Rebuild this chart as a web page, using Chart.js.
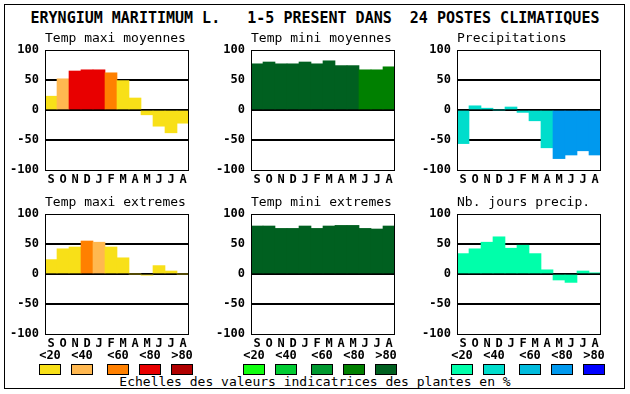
<!DOCTYPE html>
<html>
<head>
<meta charset="utf-8">
<script src="https://cdn.jsdelivr.net/npm/chart.js@4/dist/chart.umd.min.js"></script>
<style>
  body { margin: 0; background: #fff; width: 630px; height: 394px; overflow: hidden;
         font-family: "DejaVu Sans Mono", monospace; color: #000; position: relative; }
  #frame { position: absolute; left: 4px; top: 4px; width: 621px; height: 385px; border: 1px solid #000; box-sizing: border-box; }
  #title { position: absolute; left: 0; width: 630px; top: 9px; text-align: center;
           font-size: 15px; font-weight: bold; white-space: pre; line-height: 18px; }
  canvas { position: absolute; }
  .lab { position: absolute; font-size: 12px; font-weight: bold; line-height: 14px; width: 40px; text-align: center; }
  .box { position: absolute; width: 22px; height: 11px; border: 1px solid #000; box-sizing: border-box; }
  #foot { position: absolute; left: 0; width: 630px; top: 374px; text-align: center; font-size: 13px; line-height: 16px; white-space: pre; }
</style>
</head>
<body>
<div id="frame"></div>
<div id="title">ERYNGIUM MARITIMUM L.   1-5 PRESENT DANS  24 POSTES CLIMATIQUES</div>
<div id="foot">Echelles des valeurs indicatrices des plantes en %</div>

<script>
// mois (septembre -> aout)
const months = ['S', 'O', 'N', 'D', 'J', 'F', 'M', 'A', 'M', 'J', 'J', 'A'];
const yTicks = [-100, -50, 0, 50, 100];
const legendLabels = ['<20', '<40', '<60', '<80', '>80'];

// palettes des classes (une par colonne de panneaux)
const redScale = ['#F8E018', '#FFB850', '#FF8000', '#E80000', '#B00000'];
const greenScale = ['#10FF10', '#00CC33', '#009930', '#008000', '#006020'];
const blueScale = ['#00FFAA', '#00DDCC', '#00BBDD', '#0099EE', '#0000FF'];

// valeurs
const tMaxMoy = [23, 52, 65, 67, 67, 62, 49, 20, -8, -27, -38, -22];
const tMaxMoyClass = [0, 1, 3, 3, 3, 2, 0, 0, 0, 0, 0, 0];

const tMinMoy = [77, 80, 77, 77, 80, 77, 82, 74, 74, 67, 67, 72];
const tMinMoyClass = [4, 4, 4, 4, 4, 4, 4, 4, 4, 3, 3, 3];

const precip = [-56, 7, 3, 0, 5, -4, -18, -63, -81, -75, -68, -75];
const precipClass = [1, 1, 1, 1, 1, 1, 1, 1, 3, 3, 3, 3];

const tMaxExt = [24, 42, 45, 55, 53, 45, 27, 0, -2, 14, 5, 0];
const tMaxExtClass = [0, 0, 0, 2, 1, 0, 0, 0, 0, 0, 0, 0];

const tMinExt = [80, 80, 76, 76, 80, 76, 80, 81, 81, 76, 75, 80];
const tMinExtClass = [4, 4, 4, 4, 4, 4, 4, 4, 4, 4, 4, 4];

const nbJours = [34, 42, 53, 62, 43, 48, 34, 7, -10, -14, 5, 2];
const nbJoursClass = [0, 0, 0, 0, 0, 0, 0, 0, 0, 0, 0, 0];

const FONT = '"DejaVu Sans Mono", monospace';

// titre du panneau, aligne sur le bord gauche du cadre + cadre
const panelTitle = {
    id: 'panelTitle',
    afterDraw(chart, args, opts) {
        const { ctx, chartArea } = chart;
        ctx.save();
        ctx.fillStyle = '#000';
        ctx.font = '13px ' + FONT;
        ctx.textBaseline = 'middle';
        ctx.fillText(opts.text, chartArea.left, chartArea.top - 11);
        ctx.lineWidth = 1;
        ctx.strokeStyle = '#000';
        ctx.strokeRect(chartArea.left + 0.5, chartArea.top + 0.5,
            chartArea.right - chartArea.left - 1, chartArea.bottom - chartArea.top);
        ctx.restore();
    }
};

function createPanel(left, top, title, values, classes, scale) {
    const canvas = document.createElement('canvas');
    canvas.width = 188;
    canvas.height = 162;
    canvas.style.left = (left - 40) + 'px';
    canvas.style.top = (top - 24) + 'px';
    document.body.appendChild(canvas);

    new Chart(canvas, {
        type: 'bar',
        data: {
            labels: months,
            datasets: [{
                data: values,
                backgroundColor: classes.map(c => scale[c]),
                borderWidth: 0,
                barPercentage: 1,
                categoryPercentage: 1
            }]
        },
        options: {
            responsive: false,
            animation: false,
            layout: { padding: { top: 24, right: 4, left: 0, bottom: 0 } },
            plugins: {
                legend: { display: false },
                tooltip: { enabled: false },
                panelTitle: { text: title }
            },
            scales: {
                x: {
                    afterFit: s => { s.height = 18; },
                    grid: { display: false, drawTicks: false },
                    border: { display: false },
                    ticks: { padding: 3, autoSkip: false, maxRotation: 0, minRotation: 0, color: '#000',
                             font: { family: FONT, size: 12, weight: 'bold' } }
                },
                y: {
                    min: -100, max: 100, z: 1,
                    afterFit: s => { s.width = 40; },
                    afterBuildTicks: s => { s.ticks = yTicks.map(v => ({ value: v })); },
                    grid: {
                        drawTicks: false, lineWidth: 2,
                        color: c => Math.abs(c.tick.value) === 100 ? 'rgba(0,0,0,0)' : '#000'
                    },
                    border: { display: false },
                    ticks: { padding: 6, autoSkip: false, color: '#000',
                             font: { family: FONT, size: 12, weight: 'bold' } }
                }
            }
        },
        plugins: [panelTitle]
    });
}

const plotLefts = [45, 251, 457];
const plotTops = [50, 214];

createPanel(plotLefts[0], plotTops[0], 'Temp maxi moyennes', tMaxMoy, tMaxMoyClass, redScale);
createPanel(plotLefts[1], plotTops[0], 'Temp mini moyennes', tMinMoy, tMinMoyClass, greenScale);
createPanel(plotLefts[2], plotTops[0], 'Precipitations', precip, precipClass, blueScale);
createPanel(plotLefts[0], plotTops[1], 'Temp maxi extremes', tMaxExt, tMaxExtClass, redScale);
createPanel(plotLefts[1], plotTops[1], 'Temp mini extremes', tMinExt, tMinExtClass, greenScale);
createPanel(plotLefts[2], plotTops[1], 'Nb. jours precip.', nbJours, nbJoursClass, blueScale);

// echelles des classes sous les panneaux
const legendStarts = [39, 243, 451];
const boxOffsets = [0, 32, 68, 100, 132];
[redScale, greenScale, blueScale].forEach((scale, g) => {
    scale.forEach((col, i) => {
        const x = legendStarts[g] + boxOffsets[i];
        const lab = document.createElement('div');
        lab.className = 'lab';
        lab.textContent = legendLabels[i];
        lab.style.left = (x + 11 - 20) + 'px';
        lab.style.top = '348px';
        document.body.appendChild(lab);

        const box = document.createElement('div');
        box.className = 'box';
        box.style.left = x + 'px';
        box.style.top = '364px';
        box.style.background = col;
        document.body.appendChild(box);
    });
});
</script>
</body>
</html>
